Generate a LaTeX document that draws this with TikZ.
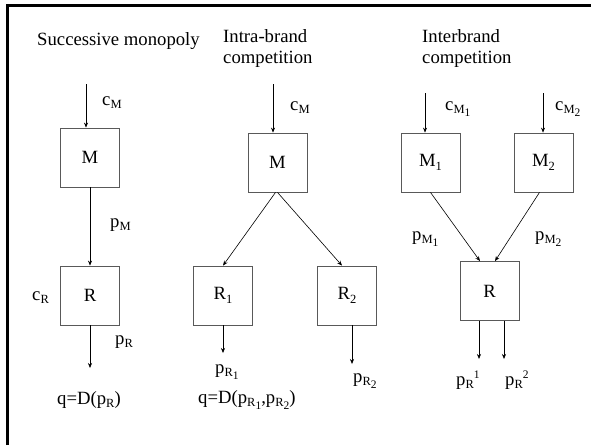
\documentclass[tikz,border=0pt]{standalone}
\usepackage{fontspec}
\setmainfont{Liberation Serif}
\usetikzlibrary{arrows.meta}

% lowered / raised indices set in text
\newcommand\idxdn[1]{\raisebox{-3.5pt}{\fontsize{12.5}{14}\selectfont #1}}
\newcommand\idxddn[1]{\raisebox{-3pt}{\fontsize{11.5}{13}\selectfont #1}}
\newcommand\idxup[1]{\raisebox{7pt}{\fontsize{11.5}{13}\selectfont #1}}

\begin{document}
\begin{tikzpicture}[x=1pt,y=-1pt,
  font=\fontsize{18.7}{22}\selectfont,
  box/.style={draw=black!65, line width=0.8pt, minimum width=59pt,
    minimum height=59pt, inner sep=0pt},
  flow/.style={-{Stealth[length=5pt,width=4pt]}, line width=0.6pt},
  lbl/.style={inner sep=0pt, anchor=base west}]
\useasboundingbox (0,0) rectangle (591,445);

% frame: heavy rules on top and left only
\draw[line width=3pt] (7.5,445) -- (7.5,5.7) -- (591,5.7);

% ---------- successive monopoly ----------
\node[lbl] (t1) at (37,45) {Successive monopoly};
\node[box] (M) at (90,157.5) {M};
\node[box] (R) at (90,295.5) {R};
\coordinate (cin1) at (86,84);
\coordinate (out1) at (90,368);
\draw[flow] (cin1) -- (cin1 |- M.north);
\draw[flow] (M) -- (R);
\draw[flow] (R) -- (out1);
\node[lbl] (cM1) at (102,105) {c\idxdn{M}};
\node[lbl] (pM1) at (110,227) {p\idxdn{M}};
\node[lbl] (cR1) at (32,300) {c\idxdn{R}};
\node[lbl] (pR1) at (115,344) {p\idxdn{R}};
\node[lbl] (q1) at (57,404) {q=D(p\idxdn{R})};

% ---------- intra-brand competition ----------
\node[lbl] (t2a) at (223,42.5) {Intra-brand};
\node[lbl] (t2b) at (223,63.5) {competition};
\node[box] (Mb) at (277.5,162.5) {M};
\node[box] (R1) at (223,295.5) {R\idxdn{1}};
\node[box] (R2) at (347,295.5) {R\idxdn{2}};
\coordinate (cin2) at (273,84);
\coordinate (out21) at (223,353);
\coordinate (out22) at (352,364);
\draw[flow] (cin2) -- (cin2 |- Mb.north);
\draw[flow] ([xshift=-2]Mb.south) -- (R1.north);
\draw[flow] (Mb.south) -- ([xshift=-5]R2.north);
\draw[flow] (R1.south) -- (out21);
\draw[flow] (out22 |- R2.south) -- (out22);
\node[lbl] (cM2) at (290,110) {c\idxdn{M}};
\node[lbl] (pR21) at (215,373) {p\idxdn{R\idxddn{1}}};
\node[lbl] (pR22) at (353,382) {p\idxdn{R\idxddn{2}}};
\node[lbl] (q2) at (198,403) {q=D(p\idxdn{R\idxddn{1}},p\idxdn{R\idxddn{2}})};

% ---------- interbrand competition ----------
\node[lbl] (t3a) at (422,42.5) {Interbrand};
\node[lbl] (t3b) at (422,63.5) {competition};
\node[box] (M1) at (430.5,162.5) {M\idxdn{1}};
\node[box] (M2) at (543.5,162.5) {M\idxdn{2}};
\node[box] (Rc) at (489.5,291) {R};
\coordinate (cin31) at (425,93);
\coordinate (cin32) at (543,93);
\coordinate (out31) at (479,359);
\coordinate (out32) at (504,359);
\draw[flow] (cin31) -- (cin31 |- M1.north);
\draw[flow] (cin32) -- (cin32 |- M2.north);
\draw[flow] (M1.south) -- ([xshift=-9.5]Rc.north);
\draw[flow] ([xshift=-4]M2.south) -- ([xshift=5.5]Rc.north);
\draw[flow] (out31 |- Rc.south) -- (out31);
\draw[flow] (out32 |- Rc.south) -- (out32);
\node[lbl] (cM31) at (445,110) {c\idxdn{M\idxddn{1}}};
\node[lbl] (cM32) at (555,110) {c\idxdn{M\idxddn{2}}};
\node[lbl] (pM31) at (412,240) {p\idxdn{M\idxddn{1}}};
\node[lbl] (pM32) at (535,240) {p\idxdn{M\idxddn{2}}};
\node[lbl] (pR31) at (456,385) {p\idxdn{R}\idxup{1}};
\node[lbl] (pR32) at (505,385) {p\idxdn{R}\idxup{2}};
\end{tikzpicture}
\end{document}
